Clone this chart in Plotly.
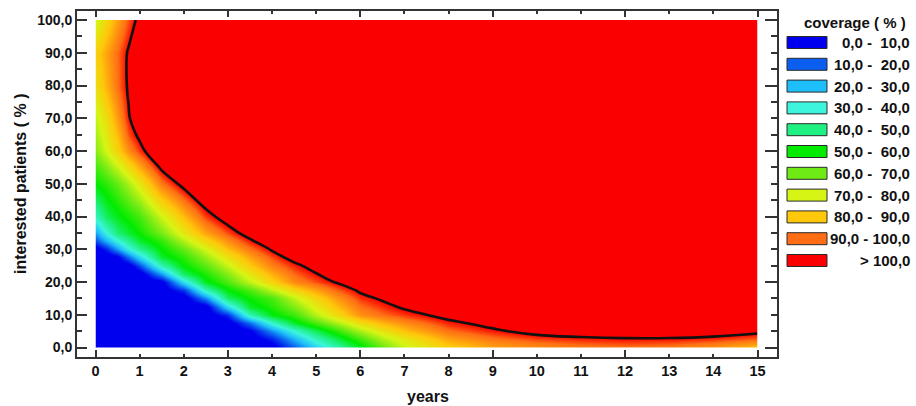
import plotly.graph_objects as go

# ---------------- data ----------------
years = [0, 0.25, 0.5, 0.75, 1, 1.5, 2, 2.5, 3, 3.5, 4, 4.5, 5, 5.5, 6, 6.5, 7,
         8, 9, 10, 11, 12, 13, 14, 15]
patients = [0, 2.5, 5, 7.5, 10, 12.5, 15, 17.5, 20, 22.5, 25, 27.5, 30, 32.5, 35, 37.5,
            40, 50, 55, 60, 65, 70, 80, 90, 100]

cov_p0 = [0, 0, 0, 0, 0, 0, 0, 0, 0, 0, 1, 14, 28, 40, 52, 64, 73, 83, 88.5, 91, 93, 94, 93, 90, 85]
cov_p2_5 = [0, 0, 0, 0, 0, 0, 0, 0, 0, 0, 8.5, 24, 38.5, 50, 61, 71, 78, 89, 94, 97, 98.5, 99.3, 99.2, 98, 95.5]
cov_p5 = [0, 0, 0, 0, 0, 0, 0, 0, 0, 3.4, 20, 36, 49, 60, 70.5, 79, 85.5, 94.5, 98.8, 102.5, 103.8, 104, 104.3, 104, 101.8]
cov_p7_5 = [0, 0, 0, 0, 0, 0, 0, 0, 0, 15.9, 36.7, 52, 62, 71, 80.8, 86.9, 91.5, 98.5, 102.4, 105.8, 107.2, 107.5, 107.7, 107.3, 105.4]
cov_p10 = [0, 0, 0, 0, 0, 0, 0, 0, 9.4, 38.6, 54, 60.5, 72, 82, 91, 94.7, 97.5, 102.5, 106, 109, 110.5, 111, 111, 110.5, 109]
cov_p12_5 = [0, 0, 0, 0, 0, 0, 0, 0.5, 29.2, 51.4, 58.2, 66.7, 77.2, 86.5, 94.4, 97.85, 101.25, 106.25, 110, 113, 114.5, 115, 115, 114.5, 113]
cov_p15 = [0, 0, 0, 0, 0, 0, 0, 19.4, 47.2, 56, 62, 73, 82.5, 91, 97.8, 101, 105, 110, 114, 117, 118.5, 119, 119, 118.5, 117]
cov_p17_5 = [0, 0, 0, 0, 0, 0, 10.6, 38.9, 54.5, 62, 72.5, 82.5, 89.5, 95.95, 101.15, 104.5, 108, 113, 117, 120, 121.75, 122.5, 122.5, 122, 120.5]
cov_p20 = [0, 0, 0, 0, 0, 2, 30.5, 52.8, 62, 72.5, 83, 92, 96.5, 100.9, 104.5, 108, 111, 116, 120, 123, 125, 126, 126, 125.5, 124]
cov_p22_5 = [0, 0, 0, 0, 0, 21.1, 47.5, 57.7, 67.2, 78.25, 87.9, 95.15, 99.75, 103.95, 107.5, 111, 114, 119, 123, 126, 128, 129, 129, 128.5, 127]
cov_p25 = [0, 0, 0, 0, 12.2, 39, 54.6, 63, 73, 84, 92.8, 98.3, 103, 107, 110.5, 114, 117, 122, 126, 129, 131, 132, 132, 131.5, 130]
cov_p27_5 = [0, 0, 3.4, 16.8, 29.8, 51.5, 59, 69, 79.5, 89, 96.8, 102.65, 107.25, 111, 114.5, 118, 121, 126, 130, 133, 135, 136, 136, 135.5, 134]
cov_p30 = [0, 8.9, 21.5, 34, 43, 55.1, 64.2, 75, 86, 94, 100.8, 107, 111.5, 115, 118.5, 122, 125, 130, 134, 137, 139, 140, 140, 139.5, 138]
cov_p32_5 = [12.5, 24, 35, 43.3, 50.9, 59.4, 71.1, 82, 91.25, 98.75, 105.4, 111, 115.25, 118.75, 122.25, 125.5, 128.5, 133.5, 137.5, 140.5, 142.5, 143.5, 143.5, 143, 141.5]
cov_p35 = [22, 35, 46, 51, 56, 66, 78, 89, 96.5, 103.5, 110, 115, 119, 122.5, 126, 129, 132, 137, 141, 144, 146, 147, 147, 146.5, 145]
cov_p37_5 = [30, 41.5, 49.5, 54, 58.5, 70, 82, 93, 100.25, 106.75, 112.5, 117, 121, 124.5, 128, 131, 134, 139, 143, 146, 148, 149, 149, 148.5, 147]
cov_p40 = [38, 48, 53, 57, 61, 74, 86, 97, 104, 110, 115, 119, 123, 126.5, 130, 133, 136, 141, 145, 148, 150, 151, 151, 150.5, 149]
cov_p50 = [55, 59, 64, 70.5, 78, 93.5, 102.5, 110, 117, 122, 127, 131, 135, 138, 141, 144, 147, 152, 156, 159, 161, 162, 162, 161.5, 160]
cov_p55 = [61, 67, 73.5, 81, 88.5, 101.5, 110, 117.5, 124, 129, 133.5, 137.5, 141.5, 144.5, 147.5, 150.5, 153.5, 158.5, 162.5, 165.5, 167.5, 168.5, 168.5, 168, 166.5]
cov_p60 = [67, 75, 83, 91.5, 97.5, 108, 117, 125, 131, 136, 140, 144, 148, 151, 154, 157, 160, 165, 169, 172, 174, 175, 175, 174.5, 173]
cov_p65 = [70, 78, 86.5, 96.4, 101.7, 113, 122.5, 130.5, 137, 142.5, 147, 151, 155, 158, 161, 164, 167, 172, 176, 179, 181, 182, 182, 181.5, 180]
cov_p70 = [73, 81, 90, 99.3, 105, 118, 128, 136, 143, 149, 154, 158, 162, 165, 168, 171, 174, 179, 183, 186, 188, 189, 189, 188.5, 187]
cov_p80 = [80, 87.5, 94.7, 101, 108, 120, 130, 138, 145, 151, 156, 160, 164, 167, 170, 173, 176, 181, 185, 188, 190, 191, 191, 190.5, 189]
cov_p90 = [83, 89, 95, 100.8, 106, 117, 127, 135, 142, 148, 153, 157, 161, 164, 167, 170, 173, 178, 182, 185, 187, 188, 188, 187.5, 186]
cov_p100 = [74, 82, 89.5, 96.4, 102, 112, 120, 128, 135, 140, 145, 150, 155, 158, 162, 165, 168, 172, 175, 177, 178, 178, 177, 175, 172]

coverage = [cov_p0, cov_p2_5, cov_p5, cov_p7_5, cov_p10, cov_p12_5, cov_p15, cov_p17_5,
            cov_p20, cov_p22_5, cov_p25, cov_p27_5, cov_p30, cov_p32_5, cov_p35, cov_p37_5,
            cov_p40, cov_p50, cov_p55, cov_p60, cov_p65, cov_p70, cov_p80, cov_p90, cov_p100]

band_labels = ["0,0 -\u00a0\u00a010,0", "10,0 -\u00a0\u00a020,0", "20,0 -\u00a0\u00a030,0",
               "30,0 -\u00a0\u00a040,0", "40,0 -\u00a0\u00a050,0", "50,0 -\u00a0\u00a060,0",
               "60,0 -\u00a0\u00a070,0", "70,0 -\u00a0\u00a080,0", "80,0 -\u00a0\u00a090,0",
               "90,0 - 100,0", "> 100,0"]
band_colors = ["#0000EE", "#0A5FF0", "#1EBEFA", "#3CF5DC", "#1EF082", "#00EB00",
               "#6EEB14", "#D7F514", "#FFC80A", "#FF6E14", "#FA0000"]

x_ticks = list(range(0, 16))
x_ticktext = [str(v) for v in x_ticks]
y_ticks = list(range(0, 101, 10))
y_ticktext = [f"{v},0" for v in y_ticks]

contour_level = 100

# ---------------- geometry helpers (pixels -> paper) ----------------
W, H = 916, 406
def px(x):
    return x / W
def py(y):
    return 1 - y / H

# data region (x=0..15, y=0..100)
DX0, DX1 = 95.5, 757.5
DY0, DY1 = 347.5, 20.0
# frame
FX0, FX1 = 77.0, 777.0
FY0, FY1 = 357.0, 11.0
sx = (DX1 - DX0) / 15.0
sy = (DY0 - DY1) / 100.0
frame_xrange = [(FX0 - DX0) / sx, (FX1 - DX0) / sx]
frame_yrange = [(DY0 - FY0) / sy, (DY0 - FY1) / sy]

# colorscale built from legend colours (band centres)
cscale = [[0.0, band_colors[0]], [0.05, band_colors[0]]]
for k in range(1, 10):
    cscale.append([0.05 + 0.1 * k, band_colors[k]])
cscale.append([1.0, band_colors[10]])

fig = go.Figure()
fig.add_trace(go.Heatmap(
    x=years, y=patients, z=coverage, zmin=0, zmax=100, zsmooth="best",
    colorscale=cscale, showscale=False, hoverinfo="skip",
    xaxis="x", yaxis="y"))
fig.add_trace(go.Contour(
    x=years, y=patients, z=coverage, showscale=False, hoverinfo="skip",
    contours=dict(start=contour_level, end=contour_level, size=1, coloring="none"),
    line=dict(color="#111111", width=2.6, smoothing=1.3),
    xaxis="x", yaxis="y"))
# dummies so every frame axis has a trace
for xa, ya in [("x2", "y2"), ("x3", "y2"), ("x4", "y2"), ("x2", "y3")]:
    fig.add_trace(go.Scatter(x=[None], y=[None], xaxis=xa, yaxis=ya,
                             showlegend=False, hoverinfo="skip", mode="markers"))

FRAME = "#333333"
tickfont_x = dict(family="Liberation Sans, Arial, sans-serif", size=14.5, color="#111", weight="bold")
tickfont_y = dict(family="Liberation Sans, Arial, sans-serif", size=14, color="#111", weight="bold")

fig.update_layout(
    width=W, height=H, margin=dict(l=0, r=0, t=0, b=0),
    paper_bgcolor="white", plot_bgcolor="rgba(0,0,0,0)", showlegend=False,
    xaxis=dict(domain=[px(DX0), px(DX1)], range=[0, 15], visible=False, anchor="y"),
    yaxis=dict(domain=[py(DY0), py(DY1)], range=[0, 100], visible=False, anchor="x"),
    xaxis2=dict(domain=[px(FX0), px(FX1)], range=frame_xrange, anchor="y2",
                showline=True, linecolor=FRAME, linewidth=2, mirror=True,
                showgrid=False, zeroline=False,
                tickmode="array", tickvals=x_ticks, ticktext=x_ticktext,
                ticks="inside", ticklen=3, tickwidth=1.5, tickcolor=FRAME,
                tickfont=tickfont_x),
    xaxis3=dict(overlaying="x2", side="bottom", anchor="y2", range=frame_xrange,
                showline=False, showgrid=False, zeroline=False, showticklabels=False,
                tickmode="linear", tick0=0, dtick=3,
                ticks="inside", ticklen=7, tickwidth=1.5, tickcolor=FRAME),
    xaxis4=dict(overlaying="x2", side="top", anchor="y2", range=frame_xrange,
                showline=False, showgrid=False, zeroline=False, showticklabels=False,
                tickmode="linear", tick0=0, dtick=3,
                ticks="inside", ticklen=6, tickwidth=1.5, tickcolor=FRAME,
                minor=dict(tickmode="linear", tick0=0, dtick=1, ticks="inside",
                           ticklen=3, tickwidth=1.5, tickcolor=FRAME)),
    yaxis2=dict(domain=[py(FY0), py(FY1)], range=frame_yrange, anchor="x2",
                showline=True, linecolor=FRAME, linewidth=2, mirror=True,
                showgrid=False, zeroline=False,
                tickmode="array", tickvals=y_ticks, ticktext=y_ticktext,
                ticks="inside", ticklen=10, tickwidth=1.5, tickcolor=FRAME,
                minor=dict(tickmode="linear", tick0=0, dtick=5, ticks="inside",
                           ticklen=5, tickwidth=1.5, tickcolor=FRAME),
                tickfont=tickfont_y),
    yaxis3=dict(overlaying="y2", side="right", anchor="x2", range=frame_yrange,
                showline=False, showgrid=False, zeroline=False, showticklabels=False,
                tickmode="linear", tick0=0, dtick=20,
                ticks="inside", ticklen=12, tickwidth=1.5, tickcolor=FRAME,
                minor=dict(tickmode="linear", tick0=0, dtick=5, ticks="inside",
                           ticklen=6, tickwidth=1.5, tickcolor=FRAME)),
)

title_font = dict(family="Liberation Sans, Arial, sans-serif", size=16, color="#111", weight="bold")
legend_font = dict(family="Liberation Sans, Arial, sans-serif", size=15, color="#111", weight="bold")

annotations = [
    dict(text="years", x=px(428), y=py(396), xref="paper", yref="paper",
         showarrow=False, xanchor="center", yanchor="middle", font=title_font),
    dict(text="interested patients ( % )", x=px(20), y=py(184), xref="paper", yref="paper",
         showarrow=False, xanchor="center", yanchor="middle", textangle=-90, font=title_font),
    dict(text="coverage ( % )", x=px(855), y=py(22.5), xref="paper", yref="paper",
         showarrow=False, xanchor="center", yanchor="middle", font=legend_font),
]
shapes = []
for k, (lab, col) in enumerate(zip(band_labels, band_colors)):
    cy = 42.5 + 21.8 * k
    shapes.append(dict(type="rect", xref="paper", yref="paper",
                       x0=px(787), x1=px(827), y0=py(cy + 6), y1=py(cy - 6),
                       fillcolor=col, line=dict(color="#2a2a2a", width=1)))
    annotations.append(dict(text=lab, x=px(912), y=py(cy), xref="paper", yref="paper",
                            showarrow=False, xanchor="right", yanchor="middle",
                            font=legend_font))
fig.update_layout(annotations=annotations, shapes=shapes)

fig.write_html("out.html")
